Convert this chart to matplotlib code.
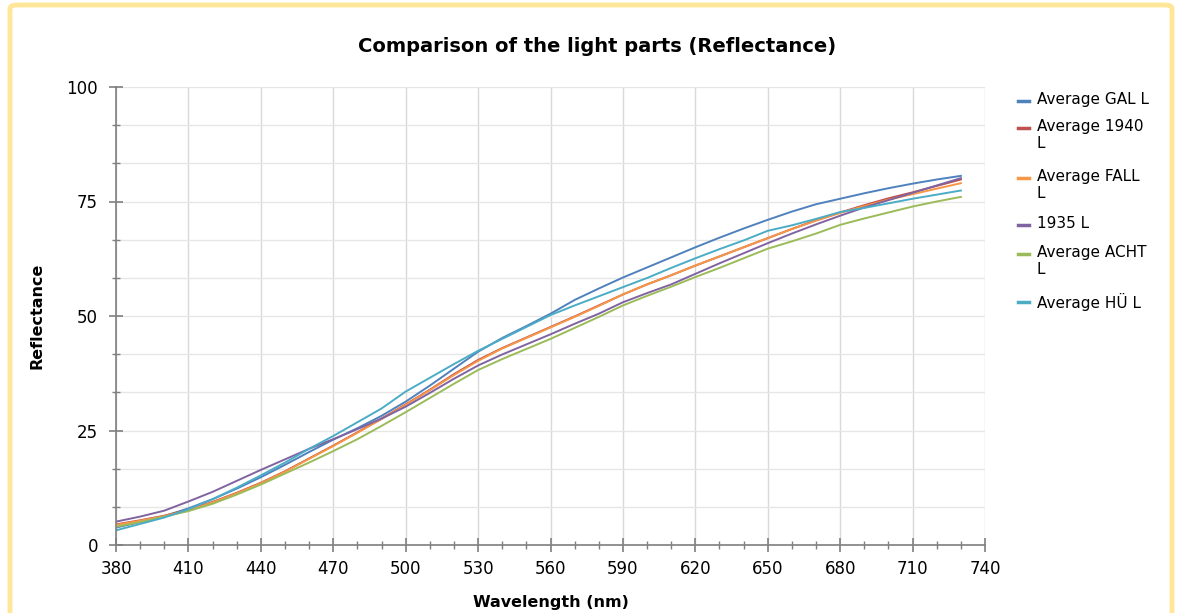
import matplotlib.pyplot as plt
from matplotlib.lines import Line2D
from matplotlib.patches import FancyBboxPatch

wl = list(range(380, 740, 10))

gal = [3.8, 5.0, 6.3, 8.0, 10.0, 12.3, 14.8, 17.5, 20.3, 23.0, 25.5, 28.2,
       31.3, 34.8, 38.5, 42.2, 45.2, 47.8, 50.5, 53.5, 56.0, 58.4, 60.6, 62.8,
       65.0, 67.1, 69.1, 71.0, 72.8, 74.4, 75.6, 76.8, 77.9, 78.9, 79.8, 80.6]
y1940 = [4.5, 5.4, 6.4, 7.7, 9.4, 11.4, 13.6, 16.1, 18.9, 21.7, 24.6, 27.6,
         30.7, 33.9, 37.3, 40.4, 43.0, 45.3, 47.6, 49.9, 52.3, 54.7, 56.9, 58.9,
         61.0, 63.0, 65.0, 67.0, 69.0, 70.9, 72.6, 74.2, 75.7, 77.0, 78.4, 79.8]
fall = [4.4, 5.3, 6.3, 7.6, 9.3, 11.3, 13.5, 16.0, 18.8, 21.6, 24.5, 27.5,
        30.6, 33.8, 37.1, 40.2, 42.9, 45.2, 47.5, 49.8, 52.2, 54.7, 56.9, 58.9,
        61.0, 63.0, 65.0, 67.0, 69.0, 70.8, 72.5, 74.0, 75.4, 76.6, 77.8, 79.0]
y1935 = [5.1, 6.2, 7.5, 9.5, 11.6, 14.0, 16.4, 18.7, 21.0, 23.1, 25.3, 27.6,
         30.2, 33.2, 36.3, 39.2, 41.6, 43.8, 46.0, 48.3, 50.5, 53.0, 55.0, 56.9,
         59.2, 61.5, 63.7, 65.9, 68.0, 70.0, 71.9, 73.7, 75.3, 76.9, 78.5, 80.1]
acht = [4.0, 5.0, 6.2, 7.4, 9.0, 11.0, 13.2, 15.6, 18.0, 20.5, 23.1, 26.0,
        29.0, 32.1, 35.2, 38.2, 40.6, 42.8, 45.0, 47.4, 49.8, 52.3, 54.4, 56.4,
        58.5, 60.5, 62.6, 64.7, 66.3, 68.0, 69.9, 71.3, 72.6, 73.9, 75.0, 76.0]
hue = [3.2, 4.6, 6.0, 7.8, 10.0, 12.5, 15.2, 18.0, 21.0, 23.8, 26.8, 29.8,
       33.5, 36.5, 39.5, 42.4, 45.0, 47.6, 50.2, 52.3, 54.3, 56.3, 58.3, 60.5,
       62.6, 64.6, 66.5, 68.6, 69.8, 71.2, 72.7, 73.6, 74.6, 75.6, 76.5, 77.4]

labels = ["Average GAL L", "Average 1940\nL", "Average FALL\nL", "1935 L",
          "Average ACHT\nL", "Average HÜ L"]
series = [gal, y1940, fall, y1935, acht, hue]
colors = ["#4F81BD", "#C0504D", "#F79646", "#8064A2", "#9BBB59", "#4BACC6"]

x_major = list(range(380, 741, 30))
x_minor = list(range(380, 741, 10))
y_major = [0, 25, 50, 75, 100]
y_minor = [i * 25 / 3 for i in range(13)]

W, H = 1183, 613
fig = plt.figure(figsize=(W / 100, H / 100), dpi=100)

# yellow frame around the chart
frame = FancyBboxPatch((10 / W, -20 / H), 1162 / W, (H - 5 + 20) / H,
                       boxstyle="round,pad=0,rounding_size=0.006",
                       transform=fig.transFigure, fill=False,
                       edgecolor="#FFE699", linewidth=3.5)
fig.add_artist(frame)

ax = fig.add_axes([116 / W, (H - 545) / H, (985 - 116) / W, (545 - 87) / H])

for s, c in zip(series, colors):
    ax.plot(wl, s, color=c, linewidth=1.4)

ax.set_xlim(380, 740)
ax.set_ylim(0, 100)
ax.set_xticks(x_major)
ax.set_xticks(x_minor, minor=True)
ax.set_yticks(y_major)
ax.set_yticks(y_minor, minor=True)

ax.grid(True, which="major", axis="x", color="#D9D9D9", linewidth=1)
ax.grid(True, which="both", axis="y", color="#E6E6E6", linewidth=1)
ax.set_axisbelow(True)

for side in ["top", "right"]:
    ax.spines[side].set_visible(False)
for side in ["left", "bottom"]:
    ax.spines[side].set_color("#7F7F7F")
    ax.spines[side].set_linewidth(1.2)

ax.tick_params(which="major", direction="inout", length=10, width=1.2,
               color="#7F7F7F", labelsize=12, labelcolor="#000000")
ax.tick_params(which="minor", direction="inout", length=6, width=1,
               color="#7F7F7F")
ax.tick_params(axis="y", pad=8)
ax.tick_params(axis="x", pad=6)

ax.set_xlabel("Wavelength (nm)", fontsize=11.5, fontweight="bold", labelpad=12)
ax.set_ylabel("Reflectance", fontsize=11.5, fontweight="bold", labelpad=16)

fig.text(597 / W, 1 - 47 / H, "Comparison of the light parts (Reflectance)",
         ha="center", va="center", fontsize=14, fontweight="bold")

# legend drawn by hand so the key sits on the first text line
leg_y = [101, 128, 178, 225, 254, 302]
for lab, c, y in zip(labels, colors, leg_y):
    fy = 1 - y / H
    fig.add_artist(Line2D([1018 / W, 1029 / W], [fy, fy], color=c,
                          linewidth=2.5, transform=fig.transFigure))
    fig.text(1037 / W, 1 - (y - 9) / H, lab, ha="left", va="top",
             fontsize=11, linespacing=1.15)

fig.savefig("out.png", dpi=100)
